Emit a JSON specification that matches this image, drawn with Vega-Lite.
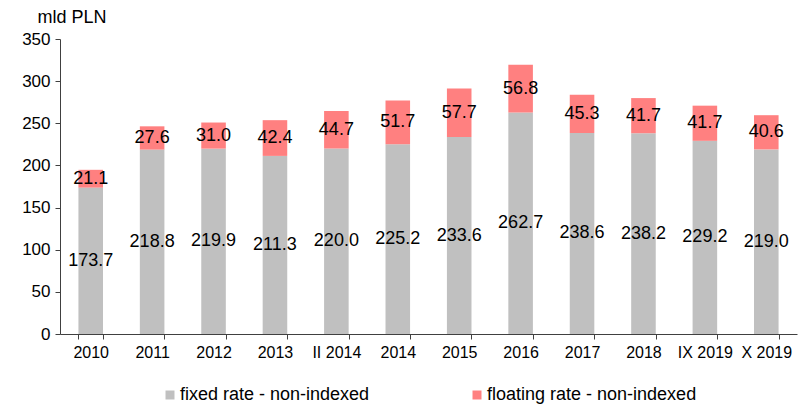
{
  "$schema": "https://vega.github.io/schema/vega-lite/v6.json",
  "autosize": {"type": "none"},
  "padding": {"left": 60, "top": 39, "right": 12, "bottom": 74},
  "width": 737,
  "height": 295,
  "background": "white",
  "config": {
    "font": "Liberation Sans",
    "view": {"stroke": null},
    "legend": {"layout": {"bottom": {"anchor": "middle"}}}
  },
  "data": {
    "values": [
      {"period": "2010", "type": "fixed rate - non-indexed", "value": 173.7},
      {"period": "2011", "type": "fixed rate - non-indexed", "value": 218.8},
      {"period": "2012", "type": "fixed rate - non-indexed", "value": 219.9},
      {"period": "2013", "type": "fixed rate - non-indexed", "value": 211.3},
      {"period": "II 2014", "type": "fixed rate - non-indexed", "value": 220.0},
      {"period": "2014", "type": "fixed rate - non-indexed", "value": 225.2},
      {"period": "2015", "type": "fixed rate - non-indexed", "value": 233.6},
      {"period": "2016", "type": "fixed rate - non-indexed", "value": 262.7},
      {"period": "2017", "type": "fixed rate - non-indexed", "value": 238.6},
      {"period": "2018", "type": "fixed rate - non-indexed", "value": 238.2},
      {"period": "IX 2019", "type": "fixed rate - non-indexed", "value": 229.2},
      {"period": "X 2019", "type": "fixed rate - non-indexed", "value": 219.0},
      {"period": "2010", "type": "floating rate - non-indexed", "value": 21.1},
      {"period": "2011", "type": "floating rate - non-indexed", "value": 27.6},
      {"period": "2012", "type": "floating rate - non-indexed", "value": 31.0},
      {"period": "2013", "type": "floating rate - non-indexed", "value": 42.4},
      {"period": "II 2014", "type": "floating rate - non-indexed", "value": 44.7},
      {"period": "2014", "type": "floating rate - non-indexed", "value": 51.7},
      {"period": "2015", "type": "floating rate - non-indexed", "value": 57.7},
      {"period": "2016", "type": "floating rate - non-indexed", "value": 56.8},
      {"period": "2017", "type": "floating rate - non-indexed", "value": 45.3},
      {"period": "2018", "type": "floating rate - non-indexed", "value": 41.7},
      {"period": "IX 2019", "type": "floating rate - non-indexed", "value": 41.7},
      {"period": "X 2019", "type": "floating rate - non-indexed", "value": 40.6}
    ]
  },
  "transform": [
    {"calculate": "datum.type === 'fixed rate - non-indexed' ? 0 : 1", "as": "ord"},
    {"stack": "value", "groupby": ["period"], "sort": [{"field": "ord", "order": "ascending"}], "as": ["y0", "y1"]},
    {"calculate": "(datum.y0 + datum.y1) / 2", "as": "ymid"}
  ],
  "encoding": {
    "x": {
      "field": "period",
      "type": "nominal",
      "sort": ["2010", "2011", "2012", "2013", "II 2014", "2014", "2015", "2016", "2017", "2018", "IX 2019", "X 2019"],
      "scale": {"paddingInner": 0.6, "paddingOuter": 0.3},
      "axis": {
        "title": null,
        "labelAngle": 0,
        "labelFont": "Liberation Sans",
        "labelFontSize": 16,
        "labelColor": "black",
        "labelPadding": 5,
        "domainColor": "#404040",
        "tickColor": "#404040",
        "tickSize": 5,
        "tickBand": "extent"
      }
    }
  },
  "layer": [
    {
      "mark": {"type": "bar"},
      "encoding": {
        "y": {
          "field": "y0",
          "type": "quantitative",
          "scale": {"domain": [0, 350], "nice": false},
          "axis": {
            "values": [0, 50, 100, 150, 200, 250, 300, 350],
            "grid": false,
            "title": "mld PLN",
            "titleAngle": 0,
            "titleAlign": "left",
            "titleBaseline": "alphabetic",
            "titleX": -23,
            "titleY": -17,
            "titleFont": "Liberation Sans",
            "titleFontSize": 18,
            "titleFontWeight": "normal",
            "titleColor": "black",
            "labelFont": "Liberation Sans",
            "labelFontSize": 17,
            "labelColor": "black",
            "labelPadding": 5,
            "domainColor": "#404040",
            "tickColor": "#404040",
            "tickSize": 5
          }
        },
        "y2": {"field": "y1"},
        "color": {
          "field": "type",
          "type": "nominal",
          "scale": {
            "domain": ["fixed rate - non-indexed", "floating rate - non-indexed"],
            "range": ["#C0C0C0", "#FF8080"]
          },
          "legend": {
            "title": null,
            "orient": "bottom",
            "direction": "horizontal",
            "symbolType": "square",
            "symbolSize": 81,
            "symbolStrokeWidth": 0,
            "labelFont": "Liberation Sans",
            "labelFontSize": 18,
            "labelColor": "black",
            "labelLimit": 400,
            "columnPadding": 98,
            "labelOffset": 1,
            "offset": 26
          }
        }
      }
    },
    {
      "mark": {"type": "text", "font": "Liberation Sans", "fontSize": 18, "color": "black", "baseline": "middle"},
      "encoding": {
        "y": {"field": "ymid", "type": "quantitative"},
        "text": {"field": "value", "type": "quantitative", "format": ".1f"}
      }
    }
  ]
}
